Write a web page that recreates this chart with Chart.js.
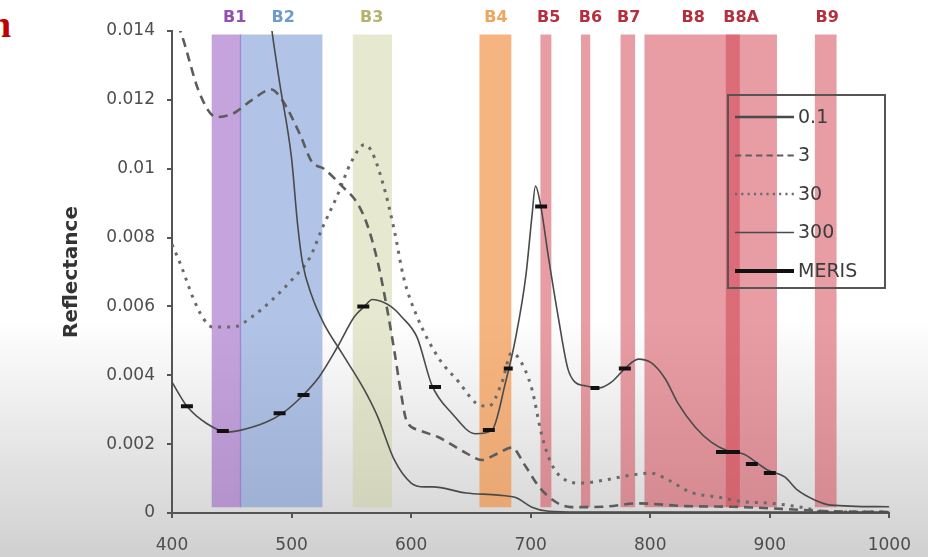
<!DOCTYPE html>
<html>
<head>
<meta charset="utf-8">
<title>Reflectance</title>
<script src="https://cdn.jsdelivr.net/npm/chart.js@4.4.0/dist/chart.umd.min.js"></script>
<style>
  html, body { margin: 0; padding: 0; }
  body {
    width: 928px; height: 557px; overflow: hidden; position: relative;
    background: linear-gradient(to bottom, #ffffff 0%, #ffffff 57%, #e8e8e8 78%, #d0d0d0 100%);
  }
  #wrap { position: absolute; left: 0; top: 0; width: 928px; height: 557px; }
  .cut { position: absolute; left: -10px; top: 2px; font: bold 38px "Liberation Serif", serif; color: #c00000; }
</style>
</head>
<body>
<div class="cut">n</div>
<div id="wrap"><canvas id="chart"></canvas></div>
<script>
/* Water reflectance for four chlorophyll levels, Sentinel-2 bands behind */

// Sentinel-2 bands (nm)
const bandNames   = ['B1', 'B2', 'B3', 'B4', 'B5', 'B6', 'B7', 'B8', 'B8A', 'B9'];
const bandStart   = [433, 456.5, 551, 657, 708, 742, 775, 795, 863, 937.5];
const bandEnd     = [458, 526, 584, 684, 717.5, 750, 787.5, 906, 875, 956];
const bandLabelAt = [452.5, 493, 567, 671, 715, 750, 782, 836, 876, 948];

// curves: wavelength (nm) / reflectance
const wl01   = [480, 484, 490, 500, 505, 509, 517, 527, 542, 561, 572, 586, 600, 611, 618, 646, 673, 688, 701, 715, 740, 800, 900, 1000];
const refl01 = [0.0150, 0.0139, 0.0125, 0.0103, 0.0084, 0.0073, 0.0063, 0.0055, 0.00465, 0.00357, 0.0028, 0.00154, 0.00087, 0.00076, 0.00076, 0.00058, 0.00052, 0.00044, 0.00017, 0.00005, 0.00003, 0.00003, 0.00003, 0.00003];

const wl3   = [400, 408, 423, 437, 451, 467, 483, 492, 507, 517, 527, 542, 555, 563, 572, 579, 586, 591, 596, 607, 623, 646, 659, 673, 684, 696, 707, 721, 734, 760, 790, 830, 870, 910, 950, 1000];
const refl3 = [0.0146, 0.0139, 0.0122, 0.0115, 0.0116, 0.0120, 0.0123, 0.0120, 0.0110, 0.0102, 0.0100, 0.0095, 0.0090, 0.0084, 0.0073, 0.0061, 0.0047, 0.0036, 0.0027, 0.0024, 0.0022, 0.00174, 0.00154, 0.00174, 0.0019, 0.00134, 0.00076, 0.00032, 0.00017, 0.00018, 0.00028, 0.0002, 0.00018, 0.00012, 0.00005, 0.00003];

const wl30   = [400, 408, 417, 426, 434, 451, 467, 484, 501, 515, 526, 538, 550, 561, 567, 577, 586, 594, 605, 623, 640, 654, 665, 676, 684, 690, 701, 709, 717, 729, 742, 762, 784, 800, 815, 834, 857, 879, 898, 929, 945, 1000];
const refl30 = [0.0078, 0.00715, 0.0063, 0.00566, 0.0054, 0.0054, 0.0057, 0.0062, 0.0068, 0.0074, 0.0083, 0.0092, 0.0102, 0.0107, 0.0105, 0.0095, 0.0082, 0.0068, 0.0057, 0.0045, 0.0038, 0.0032, 0.0031, 0.0038, 0.00465, 0.0045, 0.0036, 0.0023, 0.00145, 0.00096, 0.00087, 0.00096, 0.0011, 0.00116, 0.00096, 0.0006, 0.00046, 0.00032, 0.00029, 0.00015, 0.00003, 0.00003];

const wl300   = [400, 412.5, 429, 446, 457, 479, 492.5, 509, 523, 538, 552.5, 561, 567.5, 583, 592, 605, 617.5, 634, 654, 667.5, 679, 687.5, 696, 701, 704, 708, 715, 723, 731, 737, 745, 757, 767.5, 779, 790, 801, 812.5, 823, 837.5, 851, 865, 879, 887.5, 898, 912.5, 923, 937.5, 951, 1000];
const refl300 = [0.0038, 0.0031, 0.0026, 0.00235, 0.0024, 0.00264, 0.0029, 0.0034, 0.00395, 0.0048, 0.0057, 0.006, 0.0062, 0.006, 0.0057, 0.0051, 0.0037, 0.0029, 0.0023, 0.0024, 0.0038, 0.0051, 0.0069, 0.0086, 0.0095, 0.0090, 0.0074, 0.0057, 0.0042, 0.0038, 0.0037, 0.00363, 0.0038, 0.0042, 0.00447, 0.00436, 0.0039, 0.0032, 0.0025, 0.00206, 0.0018, 0.0017, 0.0015, 0.00125, 0.00105, 0.00067, 0.00038, 0.00023, 0.00018];

// MERIS bands sampled on the 300 curve
const merisCenter = [412.5, 442.5, 490, 510, 560, 620, 665, 681.25, 708.75, 753.75, 778.75, 865, 885, 900];
const merisWidth  = [10, 10, 10, 10, 10, 10, 10, 7.5, 10, 7.5, 10, 20, 10, 10];
const merisRefl   = [0.0031, 0.00238, 0.0029, 0.00343, 0.006, 0.00366, 0.00241, 0.0042, 0.0089, 0.00363, 0.0042, 0.00177, 0.00142, 0.00116];

const xTicks = [400, 500, 600, 700, 800, 900, 1000];
const yTicks = [0, 0.002, 0.004, 0.006, 0.008, 0.01, 0.012, 0.014];

// band styles
const bandFill = [
  'rgba(150, 90, 195, 0.55)', 'rgba(100, 135, 205, 0.5)', 'rgba(200, 205, 150, 0.45)', 'rgba(240, 140, 60, 0.65)',
  'rgba(210, 60, 75, 0.5)', 'rgba(210, 60, 75, 0.5)', 'rgba(210, 60, 75, 0.5)', 'rgba(210, 60, 75, 0.5)',
  'rgba(210, 60, 75, 0.5)', 'rgba(210, 60, 75, 0.5)'
];
const bandText = ['#9450b0', '#6d9bd0', '#b2b46c', '#eea55e', '#b5303f', '#b5303f', '#b5303f', '#b5303f', '#b5303f', '#b5303f'];

const BAND_TOP = 0.0139;
const BAND_BOTTOM = 0.00017;

const pts = (xs, ys) => xs.map((x, i) => ({ x, y: ys[i] }));

const bandSets = bandNames.map((name, i) => ({
  label: name,
  data: [{ x: bandStart[i], y: BAND_TOP }, { x: bandEnd[i], y: BAND_TOP }],
  backgroundColor: bandFill[i],
  borderColor: 'transparent',
  borderWidth: 0,
  pointRadius: 0,
  tension: 0,
  fill: { value: BAND_BOTTOM },
  order: 10
}));

const merisData = [];
merisCenter.forEach((c, i) => {
  const h = merisWidth[i] / 2;
  merisData.push({ x: c - h, y: merisRefl[i] }, { x: c + h, y: merisRefl[i] }, { x: c + h + 0.01, y: null });
});

const curve = (label, xs, ys, style) => Object.assign({
  label,
  data: pts(xs, ys),
  pointRadius: 0,
  fill: false,
  cubicInterpolationMode: 'monotone',
  order: 2,
  inLegend: true
}, style);

const curveSets = [
  curve('0.1', wl01, refl01, { borderColor: '#4a4a4a', borderWidth: 1.6 }),
  curve('3', wl3, refl3, { borderColor: '#5c5c5c', borderWidth: 2.6, borderDash: [9, 6] }),
  curve('30', wl30, refl30, { borderColor: '#6a6a6a', borderWidth: 3, borderDash: [3, 6] }),
  curve('300', wl300, refl300, { borderColor: '#4a4a4a', borderWidth: 1.6 }),
  {
    label: 'MERIS',
    data: merisData,
    borderColor: '#111',
    borderWidth: 4,
    pointRadius: 0,
    tension: 0,
    spanGaps: false,
    fill: false,
    order: 1,
    inLegend: true
  }
];

// legend drawn as a box inside the plot
const boxLegend = {
  id: 'boxLegend',
  afterDatasetsDraw(chart) {
    const ctx = chart.ctx;
    const items = chart.data.datasets.filter(d => d.inLegend);
    const left = 728, top = 95, w = 157, h = 193;
    ctx.save();
    ctx.strokeStyle = '#555';
    ctx.lineWidth = 2;
    ctx.strokeRect(left, top, w, h);
    ctx.font = '19px "DejaVu Sans"';
    ctx.textBaseline = 'middle';
    ctx.fillStyle = '#3c3c3c';
    items.forEach((d, i) => {
      const y = top + 22 + i * 38.5;
      ctx.beginPath();
      ctx.setLineDash(d.borderDash ? d.borderDash.map(v => v * 0.7) : []);
      ctx.strokeStyle = d.borderColor;
      ctx.lineWidth = d.label === '0.1' ? 2.6 : d.borderWidth * (d.borderDash ? 0.8 : 1);
      ctx.moveTo(left + 7, y);
      ctx.lineTo(left + 66, y);
      ctx.stroke();
      ctx.setLineDash([]);
      ctx.fillText(d.label, left + 70, y + 1);
    });
    ctx.restore();
  }
};

// band names above the plot
const bandLabels = {
  id: 'bandLabels',
  afterDraw(chart) {
    const ctx = chart.ctx;
    const xs = chart.scales.x;
    ctx.save();
    ctx.font = 'bold 16px "DejaVu Sans"';
    ctx.textAlign = 'center';
    ctx.textBaseline = 'middle';
    bandNames.forEach((n, i) => {
      ctx.fillStyle = bandText[i];
      ctx.fillText(n, xs.getPixelForValue(bandLabelAt[i]), chart.chartArea.top - 13);
    });
    ctx.restore();
  }
};

Chart.defaults.font.family = '"DejaVu Sans", sans-serif';

new Chart(document.getElementById('chart'), {
  type: 'line',
  data: { datasets: bandSets.concat(curveSets) },
  options: {
    responsive: true,
    maintainAspectRatio: false,
    animation: false,
    layout: { padding: { top: 31, right: 36, left: 0, bottom: 0 } },
    plugins: {
      legend: { display: false },
      tooltip: { enabled: false }
    },
    scales: {
      x: {
        type: 'linear',
        min: 400,
        max: 1000,
        afterBuildTicks: s => { s.ticks = xTicks.map(v => ({ value: v })); },
        ticks: { color: '#4d4d4d', font: { size: 17 }, padding: 17, maxRotation: 0, callback: v => String(v) },
        grid: { drawOnChartArea: false, drawTicks: true, tickLength: 5, color: '#555', lineWidth: 2 },
        border: { color: '#555', width: 2 },
        afterFit: s => { s.height = 44; }
      },
      y: {
        type: 'linear',
        min: 0,
        max: 0.014,
        afterBuildTicks: s => { s.ticks = yTicks.map(v => ({ value: v })); },
        ticks: {
          color: '#4d4d4d',
          font: { size: 17 },
          padding: 12,
          callback: v => v === 0 ? '0' : String(+v.toFixed(3))
        },
        grid: { drawOnChartArea: false, drawTicks: true, tickLength: 5, color: '#555', lineWidth: 2 },
        border: { color: '#555', width: 2 },
        title: { display: true, text: 'Reflectance', color: '#333', font: { size: 20, weight: 'bold' }, padding: { top: 60, bottom: 0 } },
        afterFit: s => { s.width = 172; }
      }
    }
  },
  plugins: [boxLegend, bandLabels]
});
</script>
</body>
</html>
